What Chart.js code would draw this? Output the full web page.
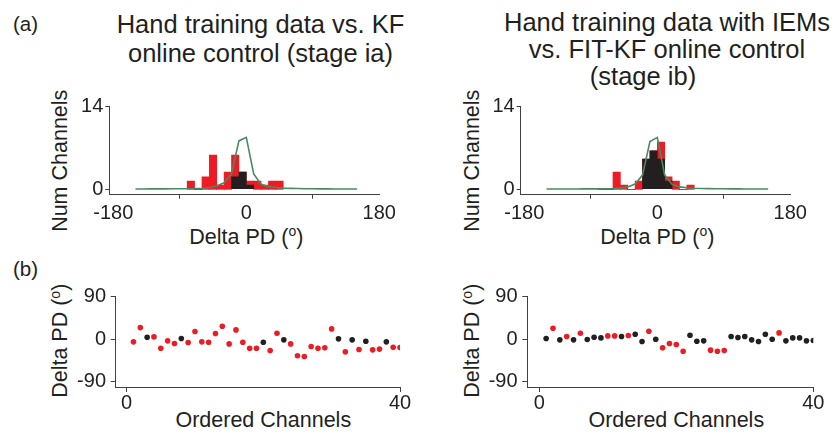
<!DOCTYPE html>
<html>
<head>
<meta charset="utf-8">
<script src="https://cdn.jsdelivr.net/npm/chart.js@4.4.1/dist/chart.umd.min.js"></script>
<style>
  body { margin: 0; background: #fff; }
  #page { position: relative; width: 839px; height: 439px; overflow: hidden;
    font-family: "Liberation Sans", Arial, Helvetica, sans-serif; color: #231f20; }
  canvas { position: absolute; }
  .t { position: absolute; white-space: nowrap; line-height: 1; }
  .title { position: absolute; white-space: nowrap; text-align: center; width: 400px; font-size: 25.5px; }
  .ax { position: absolute; white-space: nowrap; text-align: center; width: 200px; font-size: 21.5px; line-height: 1; }
  .rot { transform: rotate(-90deg); transform-origin: 50% 50%; }
  sup { font-size: 65%; vertical-align: 0.55em; line-height: 0; }
</style>
</head>
<body>
<div id="page">
  <div class="t" style="left:13px; top:14.3px; font-size:20.5px;">(a)</div>
  <div class="t" style="left:13px; top:259.3px; font-size:20.5px;">(b)</div>

  <div class="title" style="left:60.5px; top:10.3px; line-height:28.3px;">Hand training data vs. KF<br>online control (stage ia)</div>
  <div class="title" style="left:467px; top:9.3px; line-height:27px;">Hand training data with IEMs<br>vs. FIT-KF online control</div>
  <div class="title" style="left:443px; top:62.7px; line-height:27px;">(stage ib)</div>

  <div class="ax rot" style="left:-39px; top:150px;">Num Channels</div>
  <div class="ax rot" style="left:373px; top:150px;">Num Channels</div>
  <div class="ax" style="left:146.3px; top:226.8px;">Delta PD (<sup>o</sup>)</div>
  <div class="ax" style="left:557.3px; top:226.8px;">Delta PD (<sup>o</sup>)</div>

  <div class="ax rot" style="left:-39px; top:330px;">Delta PD (<sup>o</sup>)</div>
  <div class="ax rot" style="left:373px; top:330px;">Delta PD (<sup>o</sup>)</div>
  <div class="ax" style="left:163.3px; top:409.8px;">Ordered Channels</div>
  <div class="ax" style="left:576.3px; top:409.8px;">Ordered Channels</div>

  <canvas id="histA" width="360" height="130" style="left:40px; top:95px;"></canvas>
  <canvas id="histB" width="360" height="130" style="left:450px; top:95px;"></canvas>
  <canvas id="pdA" width="380" height="140" style="left:40px; top:280px;"></canvas>
  <canvas id="pdB" width="380" height="140" style="left:450px; top:280px;"></canvas>
</div>
<script>
// tick labels
const histXTicks = [-180, 0, 180];
const histYTicks = [0, 14];
const pdXTicks = [0, 40];
const pdYTicks = [-90, 0, 90];

// histogram bins (10 deg wide), value = bar height on the Num Channels axis
const binCenters = [-75, -65, -55, -45, -35, -25, -15, -5, 5, 15, 25, 35, 45];
const histRedA   = [1.4, 0, 2.1, 5.8, 0.7, 2.9, 5.8, 2.9, 1.4, 1.4, 0.7, 1.4, 1.4];
const histBlackA = [0, 0, 0, 0, 0, 0, 2.1, 2.9, 0.7, 0, 0, 0, 0];
const histRedB   = [0, 0, 2.9, 0.7, 0, 1.4, 5.1, 6.5, 8.0, 2.1, 1.4, 0, 0.7];
const histBlackB = [0, 0, 0, 0, 0, 0, 5.1, 6.5, 5.1, 1.4, 0, 0, 0];

// green reference curve
const curveX = [-150, -140, -130, -120, -110, -100, -90, -80, -70, -60, -50, -40, -30, -20, -10,
                0, 10, 20, 30, 40, 50, 60, 70, 80, 90, 100, 110, 120, 130, 140, 150];
const curveA = [0.05, 0.05, 0.06, 0.06, 0.07, 0.08, 0.09, 0.1, 0.12, 0.18, 0.3, 0.55, 1.1, 2.6, 8.2,
                8.8, 2.6, 0.85, 0.45, 0.3, 0.2, 0.15, 0.12, 0.1, 0.08, 0.07, 0.06, 0.05, 0.05, 0.04, 0.04];
const curveB = [0.05, 0.05, 0.05, 0.05, 0.05, 0.06, 0.06, 0.07, 0.08, 0.12, 0.2, 0.4, 0.9, 2.4, 8.1,
                8.8, 2.4, 0.85, 0.4, 0.25, 0.18, 0.14, 0.11, 0.09, 0.08, 0.07, 0.06, 0.05, 0.05, 0.04, 0.04];

// delta PD per ordered channel
const channels = [1, 2, 3, 4, 5, 6, 7, 8, 9, 10, 11, 12, 13, 14, 15, 16, 17, 18, 19, 20,
                  21, 22, 23, 24, 25, 26, 27, 28, 29, 30, 31, 32, 33, 34, 35, 36, 37, 38, 39, 40];
const pdA = [-5.6, 24.6, 4.2, 4.9, -19, -3.5, -9.2, 1.4, -7, 16.2,
             -5.6, -6.3, 12, 27.5, -9.9, 19.7, -6.3, -19, -19, -6.3,
             -24, 12.7, -1.4, -9.9, -35, -36.6, -15.5, -19, -18.3, 21.8,
             0.7, -26.8, -1.4, -21.8, -4.2, -22.5, -21, -5.6, -16.9, -17.6];
const pdB = [1.4, 23.2, -1.4, 5.6, -1.4, 12.7, -0.7, 4.2, 2.8, 7,
             7, 5.6, 7.7, 10.6, -4.9, 16.9, 0, -18.3, -9.2, -11.3,
             -25.4, 8.5, -4.2, -3.5, -23.2, -25.4, -23.9, 5.6, 3.5, 5.6,
             -1.4, -4.9, 10.6, 0, 13.4, -3.5, 2.8, 2.8, -3.5, -2.8];
// channels drawn in black (the rest are red)
const blackChA = [3, 8, 20, 23, 31, 33, 35, 38];
const blackChB = [1, 3, 5, 7, 8, 9, 12, 14, 15, 17, 22, 23, 24, 28, 29, 30, 31, 32, 33, 34, 36, 37, 38, 39, 40];

const RED = '#ed1c24', BLACK = '#231f20', GREEN = '#4a8a62', AXIS = '#404040';
Chart.defaults.font.family = '"Liberation Sans", Arial, Helvetica, sans-serif';
Chart.defaults.color = '#231f20';

// axis range runs a little past the first tick so the axis line sits off the data, like the original
function axis(min, max, tickVals, pad, tickLen, fitSize, horizontal) {
  return {
    type: 'linear', min, max, offset: false,
    grid: { display: true, drawOnChartArea: false, drawTicks: true, tickLength: tickLen, color: AXIS, lineWidth: 1 },
    border: { display: true, color: AXIS, width: 1 },
    ticks: { padding: pad, maxRotation: 0, autoSkip: false,
             font: { size: 20, lineHeight: 1 }, color: '#231f20' },
    afterBuildTicks: s => { s.ticks = tickVals.map(v => ({ value: v })); },
    afterFit: s => {
      if (horizontal) s.height = fitSize; else s.width = fitSize;
      // keep label overhang from moving the plot area
      s.paddingLeft = s.paddingRight = s.paddingTop = s.paddingBottom = 0;
    }
  };
}

function histChart(id, red, black, curve, xMin, yWidth, padRight) {
  return new Chart(document.getElementById(id), {
    type: 'bar',
    data: {
      datasets: [
        { type: 'line', data: curveX.map((x, i) => ({ x, y: curve[i] })), borderColor: GREEN,
          borderWidth: 1.6, pointRadius: 0, tension: 0, order: 0 },
        { data: binCenters.map((x, i) => ({ x, y: black[i] })), backgroundColor: BLACK, order: 1 },
        { data: binCenters.map((x, i) => ({ x, y: red[i] })), backgroundColor: RED, order: 2 }
      ]
    },
    options: {
      responsive: false, animation: false,
      layout: { padding: { left: 0, right: padRight, top: 11.7, bottom: 0 } },
      datasets: { bar: { grouped: false, barPercentage: 1, categoryPercentage: 1, borderWidth: 0 } },
      plugins: { legend: { display: false }, tooltip: { enabled: false } },
      scales: {
        x: axis(xMin, 180, histXTicks, 4.6, 4, 30.3, true),
        y: axis(-0.92, 14, histYTicks, 2, 4, yWidth, false)
      }
    }
  });
}

function pdChart(id, pd, blackCh, xMin, yWidth, padRight) {
  const isBlack = ch => blackCh.includes(ch);
  return new Chart(document.getElementById(id), {
    type: 'scatter',
    data: {
      datasets: [
        { data: channels.filter(c => isBlack(c)).map(c => ({ x: c, y: pd[c - 1] })),
          backgroundColor: BLACK, pointRadius: 2.8, borderWidth: 0 },
        { data: channels.filter(c => !isBlack(c)).map(c => ({ x: c, y: pd[c - 1] })),
          backgroundColor: RED, pointRadius: 2.8, borderWidth: 0 }
      ]
    },
    options: {
      responsive: false, animation: false,
      layout: { padding: { left: 0, right: padRight, top: 16.7, bottom: 0 } },
      plugins: { legend: { display: false }, tooltip: { enabled: false } },
      scales: {
        x: axis(xMin, 40, pdXTicks, 1, 5, 33, true),
        y: axis(-101.2, 90, pdYTicks, 4.7, 5, yWidth, false)
      }
    }
  });
}

histChart('histA', histRedA, histBlackA, curveA, -185.4, 69.3, 20.7);
histChart('histB', histRedB, histBlackB, curveB, -184.9, 70.7, 19.7);
pdChart('pdA', pdA, blackChA, -1.6, 75.7, 20);
pdChart('pdB', pdB, blackChB, -1.75, 77.3, 16.7);
</script>
</body>
</html>
